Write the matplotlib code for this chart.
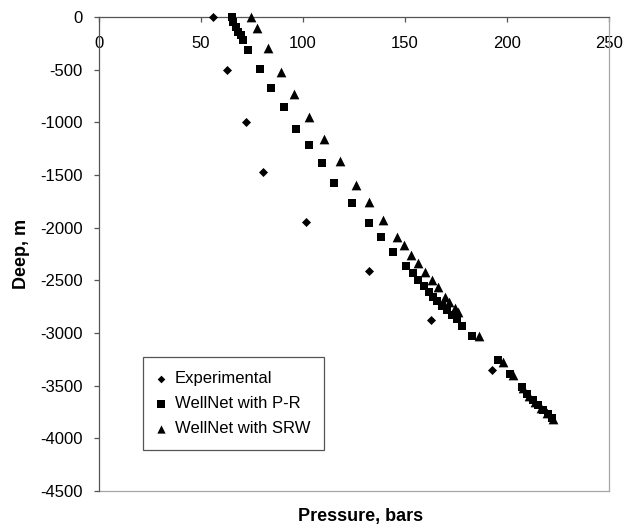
#!/usr/bin/env python3
"""Pressure vs depth profile: experimental data against WellNet predictions."""

import matplotlib
matplotlib.use('Agg')
import matplotlib.pyplot as plt
from matplotlib.lines import Line2D

plt.rcParams['font.family'] = ['Liberation Sans', 'DejaVu Sans']
plt.rcParams['axes.unicode_minus'] = False

# Experimental points
exp_pressure = [56.0, 62.6, 72.0, 80.2, 101.5, 132.5, 162.6, 192.8]
exp_depth = [0, -500, -1000, -1475, -1945, -2410, -2877, -3354]

# WellNet with Peng-Robinson
pr_pressure = [65.0, 65.8, 67.0, 68.3, 69.6, 70.7, 73.2, 78.9, 84.2, 90.7,
               96.4, 102.9, 109.3, 115.2, 123.9, 132.5, 138.2, 144.0, 150.3,
               153.7, 156.2, 159.5, 161.9, 163.9, 165.8, 168.0, 170.4, 172.9,
               175.3, 177.8, 182.7, 195.6, 201.5, 207.2, 209.7, 212.6, 215.2,
               217.8, 220.1, 222.1]
pr_depth = [0, -44, -92, -139, -171, -218, -313, -497, -671, -857,
            -1060, -1218, -1383, -1579, -1766, -1953, -2089, -2228, -2364,
            -2427, -2497, -2554, -2608, -2655, -2696, -2744, -2782, -2829,
            -2870, -2938, -3029, -3261, -3385, -3510, -3579, -3636, -3684,
            -3731, -3769, -3807]

# WellNet with SRW
srw_pressure = [74.5, 77.3, 83.0, 89.2, 95.7, 102.8, 110.3, 118.1, 125.9,
                132.4, 139.4, 145.9, 149.5, 152.9, 156.6, 160.0, 163.1, 166.3,
                169.6, 171.7, 174.5, 176.1, 186.4, 198.0, 202.9, 207.8, 210.8,
                213.7, 216.7, 219.6, 222.5]
srw_depth = [0, -102, -299, -522, -733, -947, -1160, -1369, -1593,
             -1759, -1930, -2086, -2169, -2260, -2331, -2418, -2497, -2566,
             -2656, -2703, -2760, -2798, -3024, -3271, -3399, -3523, -3598,
             -3655, -3712, -3764, -3812]

x_ticks = [0, 50, 100, 150, 200, 250]
y_ticks = [0, -500, -1000, -1500, -2000, -2500, -3000, -3500, -4000, -4500]

fig = plt.figure(figsize=(6.26, 5.28), dpi=100)
ax = fig.add_axes([99 / 626, 1 - 491 / 528, 510 / 626, 474 / 528])

ax.scatter(exp_pressure, exp_depth, marker='D', s=4.6 ** 2, color='black',
           linewidths=0, label='Experimental', clip_on=False, zorder=3)
ax.scatter(pr_pressure, pr_depth, marker='s', s=6.0 ** 2, color='black',
           linewidths=0, label='WellNet with P-R', clip_on=False, zorder=3)
ax.scatter(srw_pressure, srw_depth, marker='^', s=7.0 ** 2, color='black',
           linewidths=0, label='WellNet with SRW', clip_on=False, zorder=3)

ax.set_xlim(0, 250)
ax.set_ylim(-4500, 0)
ax.set_xticks(x_ticks)
ax.set_yticks(y_ticks)

# x axis drawn along the top (depth 0), labels hanging below it
axis_col = '#555555'
frame_col = '#a6a6a6'
ax.spines['bottom'].set_position(('axes', 1.0))
ax.spines['bottom'].set_color(axis_col)
ax.spines['left'].set_color(axis_col)
ax.spines['top'].set_visible(False)
ax.spines['right'].set_color(frame_col)
for sp in ['bottom', 'left', 'right']:
    ax.spines[sp].set_linewidth(0.9)
ax.add_line(Line2D([0, 1], [0, 0], transform=ax.transAxes, color=frame_col,
                   linewidth=0.9, clip_on=False))

ax.tick_params(axis='x', direction='out', length=3.6, width=0.9,
               color=axis_col, labelsize=12, pad=10)
ax.tick_params(axis='y', direction='out', length=3.6, width=0.9,
               color=axis_col, labelsize=12, pad=8)

fig.text(22 / 626, 1 - 254 / 528, 'Deep, m', rotation=90, ha='center',
         va='center', fontsize=13, fontweight='bold')
fig.text(361 / 626, 1 - 517 / 528, 'Pressure, bars', ha='center',
         va='center', fontsize=13, fontweight='bold')

leg = ax.legend(loc='lower left', bbox_to_anchor=(0.086, 0.086),
                fontsize=12, frameon=True, fancybox=False, framealpha=1,
                edgecolor=axis_col, handlelength=0.5, handletextpad=0.55,
                borderpad=0.85, labelspacing=0.6, borderaxespad=0,
                markerscale=0.85)
leg.get_frame().set_linewidth(0.9)

fig.savefig('out.png', dpi=100)
